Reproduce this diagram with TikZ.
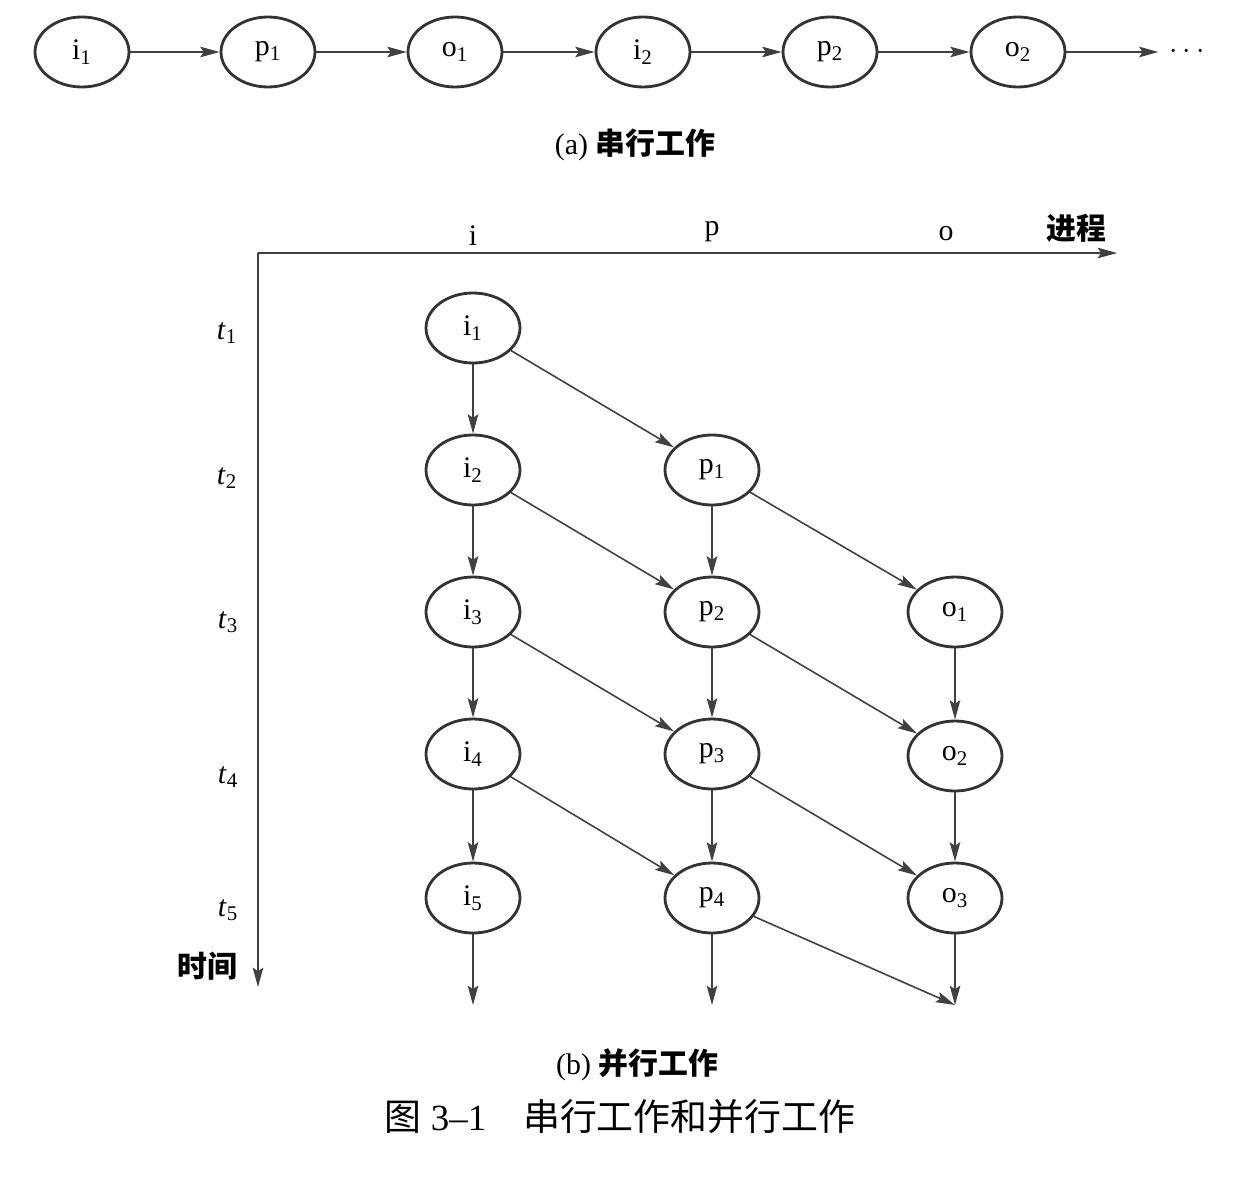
\documentclass[tikz,border=0pt]{standalone}
\usepackage{fontspec}
\setmainfont{Liberation Serif}
\newfontfamily\cjk{Noto Sans CJK SC}
\usepackage{tikz}
\usetikzlibrary{shapes,arrows.meta,positioning}

\begin{document}
\begin{tikzpicture}[
    x=0.02cm, y=-0.02cm,
    state/.style={ellipse, draw=black!80, line width=1.6pt, minimum width=1.88cm, minimum height=1.4cm, inner sep=0pt, font=\fontsize{17}{20}\selectfont},
    arrow/.style={-{Stealth[length=11pt, width=6pt, inset=2pt]}, draw=black!75, line width=0.9pt},
    lab/.style={font=\fontsize{17}{20}\selectfont},
    caption/.style={font=\fontsize{21}{24}\selectfont}
]
    \useasboundingbox (0,0) rectangle (1236,1182);

    % Serial work
    \node[state] (si1) at (82,52) {i\textsubscript{1}};
    \node[state] (sp1) at (268,52) {p\textsubscript{1}};
    \node[state] (so1) at (455,52) {o\textsubscript{1}};
    \node[state] (si2) at (643,52) {i\textsubscript{2}};
    \node[state] (sp2) at (830,52) {p\textsubscript{2}};
    \node[state] (so2) at (1018,52) {o\textsubscript{2}};
    \node[lab, inner sep=6pt] (sdots) at (1187,52) {$\cdots$};
    \node[lab] (capa) at (635,145) {(a) {\cjk\bfseries 串行工作}};

    \draw[arrow] (si1) -- (sp1);
    \draw[arrow] (sp1) -- (so1);
    \draw[arrow] (so1) -- (si2);
    \draw[arrow] (si2) -- (sp2);
    \draw[arrow] (sp2) -- (so2);
    \draw[arrow] (so2) -- (sdots);

    % Axes
    \coordinate (origin) at (258,253);
    \coordinate (xend) at (1117,253);
    \coordinate (yend) at (258,987);
    \draw[arrow] (origin) -- (xend);
    \draw[arrow] (origin) -- (yend);
    \node[lab] (xi) at (473,236) {i};
    \node[lab] (xp) at (712,232) {p};
    \node[lab] (xo) at (946,234) {o};
    \node[lab] (xproc) at (1076,228) {\cjk\bfseries 进程};
    \node[lab] (t1) at (227,333) {\textit{t}\textsubscript{1}};
    \node[lab] (t2) at (227,478) {\textit{t}\textsubscript{2}};
    \node[lab] (t3) at (228,622) {\textit{t}\textsubscript{3}};
    \node[lab] (t4) at (228,777) {\textit{t}\textsubscript{4}};
    \node[lab] (t5) at (228,910) {\textit{t}\textsubscript{5}};
    \node[lab] (ytime) at (207,966) {\cjk\bfseries 时间};

    % Parallel work
    \node[state] (i1) at (473,328) {i\textsubscript{1}};
    \node[state] (i2) at (473,470) {i\textsubscript{2}};
    \node[state] (i3) at (473,612) {i\textsubscript{3}};
    \node[state] (i4) at (473,754) {i\textsubscript{4}};
    \node[state] (i5) at (473,898) {i\textsubscript{5}};
    \node[state] (p1) at (712,470) {p\textsubscript{1}};
    \node[state] (p2) at (712,612) {p\textsubscript{2}};
    \node[state] (p3) at (712,754) {p\textsubscript{3}};
    \node[state] (p4) at (712,898) {p\textsubscript{4}};
    \node[state] (o1) at (955,612) {o\textsubscript{1}};
    \node[state] (o2) at (955,756) {o\textsubscript{2}};
    \node[state] (o3) at (955,898) {o\textsubscript{3}};
    \coordinate (iend) at (473,1005);
    \coordinate (pend) at (712,1005);
    \coordinate (oend) at (955,1005);

    \draw[arrow] (i1) -- (i2);
    \draw[arrow] (i2) -- (i3);
    \draw[arrow] (i3) -- (i4);
    \draw[arrow] (i4) -- (i5);
    \draw[arrow] (i5) -- (iend);
    \draw[arrow] (p1) -- (p2);
    \draw[arrow] (p2) -- (p3);
    \draw[arrow] (p3) -- (p4);
    \draw[arrow] (p4) -- (pend);
    \draw[arrow] (o1) -- (o2);
    \draw[arrow] (o2) -- (o3);
    \draw[arrow] (o3) -- (oend);
    \draw[arrow] (i1) -- (p1);
    \draw[arrow] (i2) -- (p2);
    \draw[arrow] (i3) -- (p3);
    \draw[arrow] (i4) -- (p4);
    \draw[arrow] (p1) -- (o1);
    \draw[arrow] (p2) -- (o2);
    \draw[arrow] (p3) -- (o3);
    \draw[arrow] (p4) -- (oend);

    % Captions
    \node[lab] (capb) at (637,1065) {(b) {\cjk\bfseries 并行工作}};
    \node[caption] (capfig) at (620,1117) {{\cjk 图} 3--1\quad{\cjk 串行工作和并行工作}};
\end{tikzpicture}
\end{document}
